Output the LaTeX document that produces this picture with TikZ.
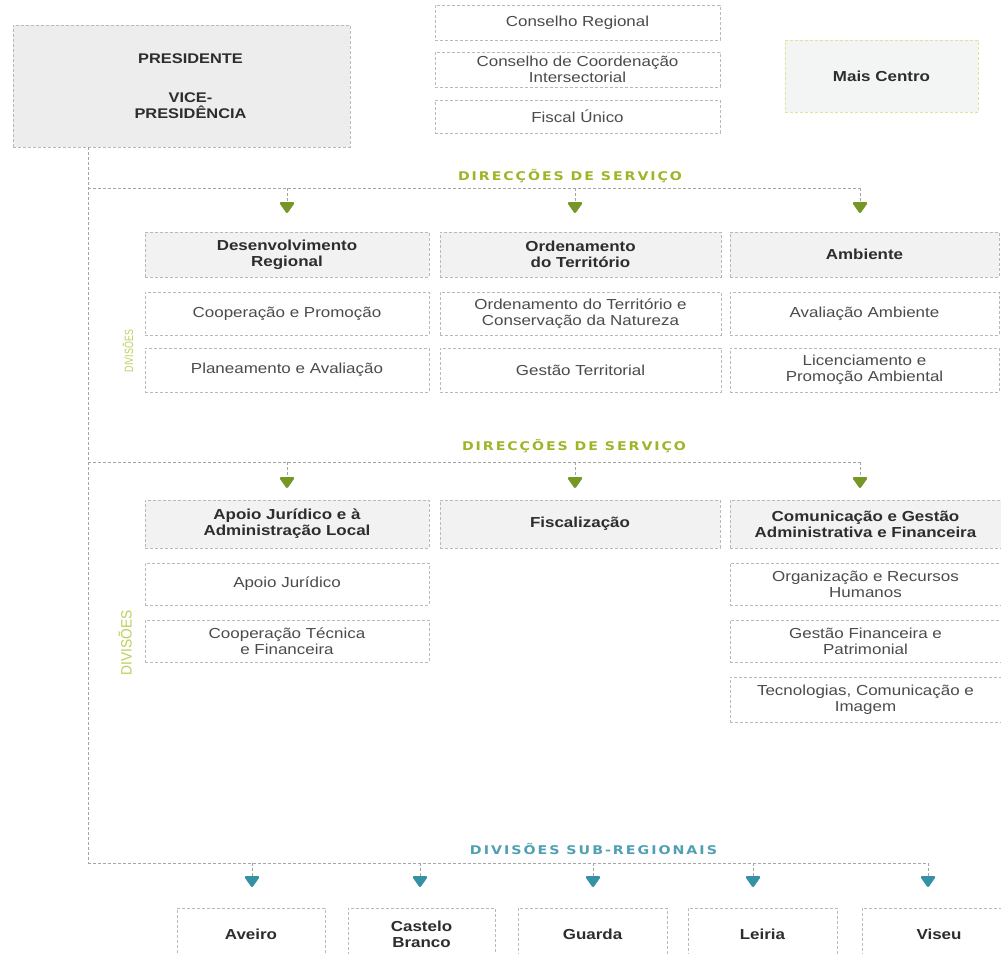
\documentclass[tikz,border=0pt]{standalone}
\usepackage{fontspec}
\usepackage{graphicx}
\setmainfont{Liberation Sans}[FakeStretch=1.17]
\newfontfamily\labfont{DejaVu Sans}[LetterSpace=14]
\usetikzlibrary{arrows.meta}
\definecolor{bord}{RGB}{185,185,185}
\definecolor{conncol}{RGB}{165,165,165}
\definecolor{headfill}{RGB}{242,242,242}
\definecolor{presfill}{RGB}{237,237,237}
\definecolor{headtext}{RGB}{45,45,45}
\definecolor{bodytext}{RGB}{75,75,75}
\definecolor{mcbord}{RGB}{222,230,150}
\definecolor{mcfill}{RGB}{243,245,245}
\definecolor{glabel}{RGB}{160,180,40}
\definecolor{gtip}{RGB}{118,150,38}
\definecolor{tlabel}{RGB}{80,160,180}
\definecolor{ttip}{RGB}{55,145,165}
\definecolor{divcol}{RGB}{190,205,90}
\tikzset{
  base/.style={draw=bord, line width=0.8pt, dash pattern=on 3pt off 2pt, inner sep=0pt, align=center, font=\fontsize{14.5}{16}\selectfont},
  headbox/.style={base, fill=headfill, text=headtext, font=\bfseries\fontsize{14.5}{16}\selectfont},
  subbox/.style={base, fill=white, text=bodytext},
  conn/.style={draw=conncol, line width=0.8pt, dash pattern=on 3pt off 2pt},
  gdrop/.style={conn, -{Triangle[width=16pt,length=12pt,round,line width=2.5pt,color=gtip,fill=gtip]}},
  tdrop/.style={conn, -{Triangle[width=16pt,length=12pt,round,line width=2.5pt,color=ttip,fill=ttip]}},
  seclabel/.style={font=\labfont\bfseries\fontsize{12}{12}\selectfont, inner sep=0pt},
  divlabel/.style={rotate=90, text=divcol, inner sep=0pt},
}
\newcommand\boxnode[7]{\node[#1, minimum width={(#5-#3)*1pt}, minimum height={(#6-#4)*1pt}] (#2) at ({(#3+#5)/2},{(#4+#6)/2}) {#7};}
\begin{document}
\begin{tikzpicture}[x=1pt,y=-1pt]
\useasboundingbox (0,0) rectangle (1001,953);
\clip (0,0) rectangle (1001,953);

% top
\node[base, fill=presfill, minimum width=337pt, minimum height=122pt,
  label={[xshift=9pt, align=center, text=headtext, font=\bfseries\fontsize{14}{16}\selectfont]center:{PRESIDENTE\\[23pt]VICE-\\PRESIDÊNCIA}}] (pres) at (181.5,86) {};
\boxnode{subbox}{cr}{435}{5}{720}{40}{Conselho Regional}
\boxnode{subbox}{cci}{435}{52}{720}{87}{Conselho de Coordenação\\Intersectorial}
\boxnode{subbox}{fu}{435}{100}{720}{133}{Fiscal Único}
\boxnode{headbox, draw=mcbord, fill=mcfill}{mc}{785}{40}{978}{112}{Mais Centro}

% section labels
\node[seclabel, text=glabel] (ds1) at (570,176) {\resizebox{224pt}{\height}{DIRECÇÕES DE SERVIÇO}};
\node[seclabel, text=glabel] (ds2) at (574,446) {\resizebox{224pt}{\height}{DIRECÇÕES DE SERVIÇO}};
\node[seclabel, text=tlabel] (dsr) at (593.5,849.5) {\resizebox{247pt}{\height}{DIVISÕES SUB-REGIONAIS}};
\node[divlabel] (dv1) at (128,351) {\resizebox{42pt}{\height}{\fontsize{12}{12}\selectfont DIVISÕES}};
\node[divlabel] (dv2) at (125,643) {\resizebox{65pt}{\height}{\fontsize{15}{15}\selectfont DIVISÕES}};

% row 1
\boxnode{headbox}{dr}{145}{232}{429}{277}{Desenvolvimento\\Regional}
\boxnode{headbox}{ot}{440}{232}{721}{277}{Ordenamento\\do Território}
\boxnode{headbox}{amb}{730}{232}{999}{277}{Ambiente}
\boxnode{subbox}{cp}{145}{292}{429}{335}{Cooperação e Promoção}
\boxnode{subbox}{otcn}{440}{292}{721}{335}{Ordenamento do Território e\\Conservação da Natureza}
\boxnode{subbox}{aa}{730}{292}{999}{335}{Avaliação Ambiente}
\boxnode{subbox}{pa}{145}{348}{429}{392}{Planeamento e Avaliação}
\boxnode{subbox}{gt}{440}{348}{721}{392}{Gestão Territorial}
\boxnode{subbox}{lpa}{730}{348}{999}{392}{Licenciamento e\\Promoção Ambiental}

% row 2
\boxnode{headbox}{aj}{145}{500}{429}{548}{Apoio Jurídico e à\\Administração Local}
\boxnode{headbox}{fisc}{440}{500}{720}{548}{Fiscalização}
\boxnode{headbox}{cg}{730}{500}{1001}{548}{Comunicação e Gestão\\Administrativa e Financeira}
\boxnode{subbox}{apj}{145}{563}{429}{605}{Apoio Jurídico}
\boxnode{subbox}{ctf}{145}{620}{429}{662}{Cooperação Técnica\\e Financeira}
\boxnode{subbox}{orh}{730}{563}{1001}{605}{Organização e Recursos\\Humanos}
\boxnode{subbox}{gfp}{730}{620}{1001}{662}{Gestão Financeira e\\Patrimonial}
\boxnode{subbox}{tci}{730}{677}{1001}{722}{Tecnologias, Comunicação e\\Imagem}

% bottom
\boxnode{headbox, fill=white}{av}{177}{908}{325}{960}{Aveiro}
\boxnode{headbox, fill=white}{cb}{348}{908}{495}{960}{Castelo\\Branco}
\boxnode{headbox, fill=white}{gu}{518}{908}{667}{960}{Guarda}
\boxnode{headbox, fill=white}{le}{688}{908}{837}{960}{Leiria}
\boxnode{headbox, fill=white}{vi}{862}{908}{1016}{960}{Viseu}

% connectors
\coordinate (t0) at (88,147);
\coordinate (h1) at (88,188);
\coordinate (h2) at (88,462);
\coordinate (h3) at (88,863);
\coordinate (h1e) at (860,188);
\coordinate (h2e) at (860,462);
\coordinate (h3e) at (928,863);
\draw[conn] (t0) -- (h3);
\draw[conn] (h1) -- (h1e);
\draw[conn] (h2) -- (h2e);
\draw[conn] (h3) -- (h3e);
\foreach \x [count=\i] in {287,575,860} {
  \coordinate (d1\i) at (\x,188); \coordinate (a1\i) at (\x,213);
  \draw[gdrop] (d1\i) -- (a1\i);
  \coordinate (d2\i) at (\x,462); \coordinate (a2\i) at (\x,488);
  \draw[gdrop] (d2\i) -- (a2\i);
}
\foreach \x [count=\i] in {252,420,593,753,928} {
  \coordinate (d3\i) at (\x,863); \coordinate (a3\i) at (\x,887);
  \draw[tdrop] (d3\i) -- (a3\i);
}
\end{tikzpicture}
\end{document}
